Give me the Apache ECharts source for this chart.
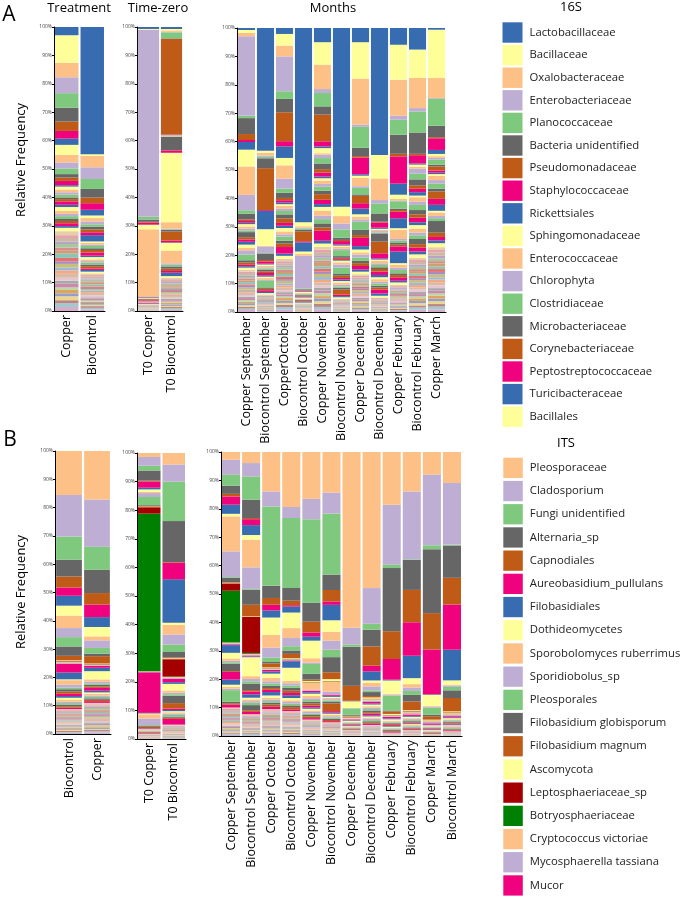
<!DOCTYPE html>
<html>
<head>
<meta charset="utf-8">
<script src="https://cdn.jsdelivr.net/npm/echarts@6/dist/echarts.min.js"></script>
<style>
  html, body { margin: 0; padding: 0; background: #fff; }
  #chart { width: 685px; height: 898px; }
</style>
</head>
<body>
<div id="chart"></div>
<script>
// legend taxa (top of each bar first)
const taxa16S = ['Lactobacillaceae', 'Bacillaceae', 'Oxalobacteraceae', 'Enterobacteriaceae', 'Planococcaceae',
  'Bacteria unidentified', 'Pseudomonadaceae', 'Staphylococcaceae', 'Rickettsiales', 'Sphingomonadaceae',
  'Enterococcaceae', 'Chlorophyta', 'Clostridiaceae', 'Microbacteriaceae', 'Corynebacteriaceae',
  'Peptostreptococcaceae', 'Turicibacteraceae', 'Bacillales'];
const taxaITS = ['Pleosporaceae', 'Cladosporium', 'Fungi unidentified', 'Alternaria_sp', 'Capnodiales',
  'Aureobasidium_pullulans', 'Filobasidiales', 'Dothideomycetes', 'Sporobolomyces ruberrimus', 'Sporidiobolus_sp',
  'Pleosporales', 'Filobasidium globisporum', 'Filobasidium magnum', 'Ascomycota', 'Leptosphaeriaceae_sp',
  'Botryosphaeriaceae', 'Cryptococcus victoriae', 'Mycosphaerella tassiana', 'Mucor'];

// categories
const treatA = ['Copper', 'Biocontrol'];
const t0A = ['T0 Copper', 'T0 Biocontrol'];
const monthsA = ['Copper September', 'Biocontrol September', 'CopperOctober', 'Biocontrol October',
  'Copper November', 'Biocontrol November', 'Copper December', 'Biocontrol December',
  'Copper February', 'Biocontrol February', 'Copper March'];
const treatB = ['Biocontrol', 'Copper'];
const t0B = ['T0 Copper', 'T0 Biocontrol'];
const monthsB = ['Copper September', 'Biocontrol September', 'Copper October', 'Biocontrol October',
  'Copper November', 'Biocontrol November', 'Copper December', 'Biocontrol December',
  'Copper February', 'Biocontrol February', 'Copper March', 'Biocontrol March'];

// 16S relative abundance per sample: 18 legend taxa, 16 further taxa, 24 minor taxa (%)
const a_copper = [2.9,9.7,5.1,5.6,5.1,4.9,3.3,2.7,2.2,3.5,2.7,2.1,2.0,1.2,1.2,1.5,0.5,1.0, 1.0,0.8,1.0,0.6,0.8,1.2,0.8,1.4,1.0,0.8,1.0,0.7,0.8,1.0,0.6,1.2, 1.4,1.0,1.2,0.9,1.3,1.1,1.0,1.5,1.2,0.9,1.3,1.0,1.2,1.4,1.0,1.1,1.3,0.9,1.2,1.0,1.4,1.1,1.3,1.4];
const a_biocontrol = [44.6,0.6,4.0,4.1,3.5,3.0,2.0,2.3,2.0,0.9,1.2,1.0,0.8,1.0,1.0,1.0,2.2,0.5, 0.6,0.5,0.8,0.6,0.9,1.1,0.5,0.8,0.6,0.5,0.7,0.6,0.8,0.5,0.6,0.6, 0.6,0.5,0.7,0.4,0.6,0.5,0.6,0.7,0.5,0.4,0.6,0.5,0.6,0.5,0.7,0.5,0.6,0.4,0.5,0.6,0.5,0.6,0.5,0.6];
const a_t0copper = [0.7,0.2,0.2,67,1.0,0.8,0.3,0.7,0.1,1.6,24,0.1,0.1,0.1,0.1,0.1,0.1,0.1, 0.1,0.1,0.1,0.1,0.4,0.3,0.1,0.1,0.1,0.1,0.1,0.1,0.1,0.2,0.1,0.1, 0.1,0.1,0.1,0.1,0.1,0.1,0.1,0.1,0.1,0.1,0.1,0.1,0.1,0.1,0.1,0.1,0.1,0.1,0.1,0.1,0.1,0.1,0.1,0.1];
const a_t0biocontrol = [0.7,0.5,0.5,0.2,2.1,0.2,33.7,0.2,0.1,0.2,0.1,0.1,0.1,4.7,0.1,0.8,0.1,24.4, 2.3,0.2,0.2,0.6,3.2,0.6,0.2,2.7,4.5,0.5,0.6,0.8,0.8,0.6,1.2,0.6, 0.5,0.6,0.4,0.5,0.6,0.4,0.5,0.5,0.6,0.4,0.5,0.4,0.5,0.6,0.4,0.5,0.5,0.4,0.6,0.5,0.4,0.5,0.5,0.4];
const a_cuSep = [0.7,1.0,1.2,28,0.8,5.6,2.1,0.7,2.7,5.9,10,5.4,1.2,2.0,0.6,0.6,0.5,0.8, 0.8,0.6,0.6,1.8,0.8,0.8,1.0,1.2,0.8,1.5,2.0,0.8,0.8,0.5,0.5,0.7, 0.7,0.5,0.8,0.6,0.5,0.7,0.6,0.8,0.5,0.6,0.7,0.5,0.6,0.8,0.6,0.5,0.7,0.6,0.5,0.7,0.6,0.6,0.5,0.7];
const a_bioSep = [43.4,0.8,0.9,0.5,0.5,3.5,14.8,0.3,6.5,5.9,0.2,2.3,0.2,2.3,0.5,0.8,0.3,0.5, 0.5,0.4,0.5,0.5,0.6,0.8,0.5,0.5,0.6,0.4,2.3,0.5,0.5,0.6,0.4,0.5, 0.3,0.2,0.4,0.2,0.3,0.3,0.2,0.4,0.2,0.3,0.2,0.3,0.3,0.2,0.2,0.3,0.2,0.3,0.2,0.3,0.2,0.2,0.3,0.2];
const a_cuOct = [2.1,4.1,3.8,12.3,2.7,4.7,10.2,1.8,4.1,2.6,4.7,3.5,1.5,1.8,0.8,0.8,0.6,0.6, 1.0,0.8,1.2,1.4,1.6,1.0,0.8,1.2,1.0,0.8,1.5,1.0,1.2,2.3,0.8,1.0, 0.9,0.7,0.8,0.6,0.9,0.8,0.7,1.0,0.8,0.6,0.9,0.7,0.8,0.9,0.7,0.8,0.7,0.6,0.9,0.8,0.7,0.8,0.9,0.8];
const a_bioOct = [68.4,1.4,0.5,0.3,0.5,0.5,3.5,0.4,3.2,0.9,0.6,11.5,0.3,0.3,0.2,0.2,0.2,0.3, 0.3,0.2,0.2,0.3,0.3,0.2,0.2,0.3,0.2,0.2,0.2,0.3,0.2,0.2,0.2,0.2, 0.2,0.1,0.2,0.1,0.2,0.1,0.1,0.2,0.1,0.1,0.2,0.1,0.1,0.2,0.1,0.1,0.1,0.1,0.2,0.1,0.1,0.1,0.1,0.1];
const a_cuNov = [5.0,7.9,8.6,1.4,4.7,2.9,9.4,1.8,0.6,1.8,0.5,1.2,1.9,2.0,1.2,1.4,0.6,0.8, 1.2,1.0,1.4,1.2,2.0,1.5,1.0,1.3,1.8,1.2,1.5,1.4,1.2,3.5,1.0,1.2, 1.0,0.8,1.1,0.9,1.0,0.8,1.2,0.9,1.0,0.8,1.1,1.0,0.9,1.0,0.8,1.1,0.9,1.0,0.8,1.0,0.9,1.1,0.8,1.0];
const a_bioNov = [63,3.3,2.6,2.1,2.9,0.8,0.4,1.2,0.4,0.5,0.6,0.5,2.1,0.6,0.4,0.3,0.3,0.6, 0.8,1.0,2.3,0.6,0.8,0.5,0.6,0.5,0.8,0.6,0.5,0.6,1.8,0.5,0.4,0.5, 0.2,0.2,0.3,0.2,0.2,0.2,0.1,0.2,0.2,0.2,0.2,0.2,0.2,0.2,0.2,0.1,0.2,0.2,0.2,0.2,0.2,0.2,0.2,0.2];
const a_cuDec = [5.0,12.8,16.2,0.8,7.4,2.9,0.5,5.9,0.5,0.8,2.9,0.6,2.3,0.5,2.6,1.9,2.0,0.8, 1.0,0.8,2.9,1.8,1.0,2.9,1.2,1.0,0.8,1.0,1.2,0.8,1.0,1.2,0.8,0.9, 0.6,0.5,0.7,0.5,0.6,0.4,0.6,0.5,0.7,0.5,0.6,0.5,0.6,0.4,0.6,0.5,0.7,0.5,0.6,0.5,0.6,0.5,0.5,0.6];
const a_bioDec = [44.6,8.2,7.6,1.2,3.5,2.9,0.3,1.8,0.4,0.3,0.5,0.5,0.3,2.9,4.1,1.8,0.4,0.5, 0.8,0.6,0.8,0.6,0.9,1.2,0.8,0.7,0.9,0.6,0.8,0.6,0.7,1.4,0.8,0.6, 0.2,0.3,0.2,0.2,0.2,0.3,0.2,0.2,0.2,0.2,0.2,0.2,0.3,0.2,0.2,0.2,0.2,0.2,0.2,0.2,0.2,0.2,0.2,0.2];
const a_cuFeb = [5.9,12.3,12.7,1.4,5.3,6.7,0.9,9.6,3.9,1.5,0.5,0.3,2.6,0.5,0.6,2.3,3.5,0.6, 3.2,0.6,0.8,0.6,0.6,1.8,4.1,0.6,1.0,0.8,1.2,0.6,0.8,1.2,0.6,0.8, 0.5,0.4,0.3,0.5,0.4,0.4,0.3,0.5,0.4,0.4,0.5,0.3,0.4,0.4,0.5,0.3,0.4,0.4,0.3,0.5,0.4,0.4,0.3,0.4];
const a_bioFeb = [7.6,10,10.6,1.2,7.4,7.5,0.5,2.9,0.4,0.8,0.6,1.8,2.0,2.1,1.2,1.2,1.2,0.6, 1.5,1.2,1.8,1.5,1.2,1.6,1.0,1.2,1.4,1.0,1.3,1.8,1.2,1.4,1.0,1.2, 0.8,0.7,0.9,0.8,0.8,0.7,0.9,0.8,0.8,0.7,0.9,0.8,0.8,0.7,0.9,0.8,0.8,0.7,0.9,0.8,0.8,0.7,0.8,0.8];
const a_cuMar = [0.6,17,7,0.3,9.5,4,0.4,4.1,1.4,0.8,0.6,0.6,1.8,0.6,1.4,0.8,0.5,0.6, 1.5,1.2,1.8,1.0,2.6,2.1,2.1,0.6,1.2,0.8,1.0,4.1,1.5,1.2,1.0,1.4, 1.0,0.9,1.1,0.9,1.0,0.8,1.1,0.9,1.0,0.9,1.0,0.8,1.1,0.9,1.0,0.9,1.0,0.8,1.0,0.9,1.0,0.9,1.0,0.9];

// ITS relative abundance per sample: 19 legend taxa, 16 further taxa, 24 minor taxa (%)
const b_bio = [15.5,14.7,8.2,5.9,3.9,2.9,3.5,3.5,4.4,3.2,3.3,3.3,1.6,0.3,0.2,0.1,0.3,0.3,3.1, 2.4,0.3,1.6,1.0,0.6,0.8,0.8,0.8,0.6,0.8,0.6,0.5,0.6,0.5,0.5,0.5, 0.4,0.3,0.4,0.4,0.3,0.4,0.4,0.3,0.4,0.4,0.3,0.4,0.4,0.3,0.4,0.4,0.3,0.4,0.4,0.3,0.4,0.4,0.3,0.4];
const b_cu = [17.1,16.7,8.2,8.2,4.1,4.4,3.5,3.3,1.4,2.7,2.0,0.9,2.6,0.2,0.1,0.1,0.2,0.2,0.7, 1.2,2.9,0.8,0.6,0.5,0.6,0.5,1.0,0.6,0.5,0.6,0.5,0.5,0.5,0.5,0.6, 0.5,0.4,0.5,0.4,0.5,0.5,0.4,0.5,0.4,0.5,0.5,0.4,0.5,0.4,0.5,0.5,0.4,0.5,0.4,0.5,0.4,0.5,0.4,0.5];
const b_t0cu = [1.4,3.1,1.7,3.6,0.3,2.2,0.6,0.9,0.4,1.4,2.9,0.3,0.2,0.2,2.3,55.8,0.2,0.2,14.4, 0.2,0.3,1.5,2.3,0.2,0.4,0.5,0.2,0.2,0.2,0.3,0.2,0.2,0.2,0.3,0.2, 0.1,0.05,0.1,0.05,0.1,0.1,0.05,0.1,0.05,0.1,0.1,0.05,0.1,0.05,0.1,0.05,0.1,0.05,0.1,0.05,0.05,0.1,0.05,0.1];
const b_t0bio = [4.0,6.0,13.7,14.3,0.2,5.8,15.1,0.8,3.3,3.5,2.6,1.9,0.3,0.3,6.0,0.2,0.3,0.3,1.2, 0.6,2.3,0.8,0.5,0.5,2.6,1.9,0.5,0.4,0.4,0.5,0.4,0.6,0.4,0.4,2.0, 0.3,0.2,0.3,0.2,0.2,0.2,0.2,0.2,0.2,0.2,0.2,0.2,0.2,0.2,0.2,0.2,0.2,0.2,0.2,0.2,0.2,0.2,0.2,0.2];
const b_cuSep = [2.7,5.3,3.8,2.9,0.9,2.9,3.2,0.9,12.3,9.0,0.3,1.5,0.2,0.2,2.6,18.2,0.3,0.3,0.3, 2.7,2.0,0.8,0.5,0.5,2.6,0.3,2.7,1.8,0.8,0.6,0.5,4.1,0.5,0.5,1.0, 0.5,0.4,0.4,0.5,0.4,0.4,0.4,0.5,0.4,0.4,0.4,0.4,0.5,0.4,0.4,0.4,0.4,0.4,0.4,0.4,0.4,0.4,0.4,0.4];
const b_bioSep = [3.9,4.7,8.2,6.5,0.4,2.1,3.5,1.6,9.8,7.6,0.3,5.3,4.1,0.2,12.7,0.3,0.3,0.3,0.3, 0.3,6.7,1.0,0.8,0.8,2.3,0.5,1.0,1.2,0.6,0.6,0.6,0.8,1.8,0.6,0.8, 0.4,0.3,0.3,0.3,0.4,0.3,0.3,0.3,0.4,0.3,0.3,0.3,0.4,0.3,0.3,0.3,0.3,0.3,0.3,0.3,0.3,0.3,0.4,0.3];
const b_cuOct = [13.9,5.3,28,4.3,2.4,2.0,2.5,6.1,4.5,3.5,1.6,0.5,1.4,0.3,0.1,0.1,0.2,0.2,0.5, 0.8,1.5,1.2,0.8,0.8,0.8,0.6,0.8,1.2,0.8,0.6,0.6,0.6,0.6,0.8,0.8, 0.4,0.4,0.4,0.4,0.4,0.4,0.4,0.4,0.4,0.4,0.4,0.4,0.4,0.4,0.4,0.4,0.4,0.4,0.3,0.4,0.4,0.4,0.4,0.4];
const b_bioOct = [19.4,3.9,24.7,4.5,1.6,0.5,2.1,5.5,3.5,2.9,1.5,1.2,1.5,0.2,0.1,0.1,0.2,0.2,0.3, 2.3,4.7,0.8,0.8,0.8,1.0,0.8,0.8,1.0,0.8,0.6,0.6,0.6,0.6,0.8,0.6, 0.4,0.3,0.4,0.4,0.3,0.4,0.4,0.3,0.4,0.4,0.3,0.4,0.4,0.3,0.4,0.4,0.3,0.4,0.4,0.3,0.4,0.4,0.3,0.4];
const b_cuNov = [16.5,7.2,29.4,6.7,3.8,1.5,1.4,6.2,1.5,0.5,3.5,2.0,0.5,0.3,0.1,0.1,2.6,0.4,0.5, 0.5,0.8,0.8,0.6,0.6,0.6,0.8,0.6,0.5,0.6,0.5,0.6,0.5,0.5,0.6,0.5, 0.3,0.2,0.3,0.2,0.3,0.2,0.2,0.3,0.2,0.3,0.2,0.2,0.3,0.2,0.3,0.2,0.2,0.3,0.2,0.3,0.2,0.2,0.3,0.2];
const b_bioNov = [14.2,7.3,21.4,5.4,4.0,1.2,5.4,4.0,3.1,3.2,2.6,5.3,2.4,0.7,0.1,0.1,3.5,1.2,0.3, 0.3,0.3,0.5,0.5,0.5,0.5,2.7,0.5,0.4,0.4,0.5,0.4,0.5,0.4,0.4,0.4, 0.2,0.2,0.2,0.2,0.2,0.2,0.2,0.2,0.2,0.2,0.2,0.2,0.2,0.2,0.2,0.2,0.2,0.2,0.2,0.2,0.2,0.2,0.2,0.2];
const b_cuDec = [62.4,5.9,0.8,13.9,5.3,0.1,0.1,2.3,0.1,0.1,2.3,0.3,0.3,0.2,0.1,0.1,0.3,0.3,0.3, 0.2,0.3,0.3,0.2,0.2,0.3,0.2,0.2,0.2,0.2,0.2,0.2,0.2,0.2,0.2,0.2, 0.1,0.1,0.05,0.1,0.1,0.1,0.05,0.1,0.1,0.1,0.05,0.1,0.1,0.1,0.05,0.1,0.1,0.1,0.05,0.1,0.1,0.05,0.1,0.1];
const b_bioDec = [48,12.6,2.1,5.9,6.8,2.0,3.2,0.9,1.2,1.4,0.6,1.4,0.5,0.4,0.1,0.1,0.5,0.5,0.5, 0.4,0.6,0.5,0.5,0.5,0.6,0.5,0.6,0.4,0.4,0.4,0.5,0.4,0.5,0.4,0.4, 0.2,0.15,0.15,0.2,0.15,0.15,0.15,0.2,0.15,0.15,0.15,0.2,0.15,0.15,0.15,0.2,0.15,0.15,0.15,0.2,0.15,0.15,0.15,0.15];
const b_cuFeb = [18.6,21.2,1.2,22.3,9.8,7.3,0.3,4.7,0.3,0.3,5.3,0.3,0.9,0.3,0.1,0.1,0.3,0.3,0.5, 0.3,0.5,0.3,0.3,0.3,0.3,0.3,0.3,0.3,0.3,0.3,0.3,0.3,0.3,0.3,0.3, 0.05,0.05,0.05,0.05,0.05,0.05,0.05,0.05,0.05,0.05,0.05,0.05,0.05,0.05,0.05,0.05,0.05,0.05,0.05,0.05,0.05,0.05,0.05,0.05];
const b_bioFeb = [13.9,23.9,0.2,10.6,11.4,11.8,7.9,2.1,1.2,1.2,1.4,2.3,3.1,0.3,0.1,0.1,0.5,0.5,0.5, 0.3,0.5,0.3,0.3,0.3,0.3,0.3,0.3,0.3,0.3,0.3,0.3,0.3,0.3,0.3,0.3, 0.1,0.08,0.08,0.1,0.08,0.08,0.1,0.08,0.08,0.1,0.08,0.08,0.1,0.08,0.08,0.1,0.08,0.08,0.1,0.08,0.08,0.1,0.08,0.08];
const b_cuMar = [8.0,25.1,1.4,22.7,12.9,15.9,0.2,3.9,0.3,0.3,2.6,0.5,1.2,0.3,0.1,0.1,0.3,0.5,0.5, 0.2,0.3,0.2,0.2,0.2,0.2,0.2,0.2,0.2,0.2,0.2,0.2,0.2,0.2,0.2,0.2, 0.05,0.05,0.05,0.05,0.05,0.05,0.05,0.05,0.05,0.05,0.05,0.05,0.05,0.05];
const b_bioMar = [10.9,21.7,0.3,11.4,9.4,15.9,10.8,1.5,0.3,0.5,1.2,2.7,4.7,0.3,0.1,0.1,0.8,0.4,0.4, 0.3,0.4,0.3,0.3,0.3,0.3,0.3,0.3,0.3,0.3,0.3,0.3,0.3,0.3,0.3,0.3, 0.07,0.07,0.07,0.07,0.07,0.07,0.07,0.07,0.07,0.07,0.07,0.07,0.07,0.07,0.07,0.07,0.07,0.07,0.07,0.07,0.07,0.07,0.07,0.07];

// colours
const BLUE = '#386CB0', YELLOW = '#FFFF99', ORANGE = '#FDC086', PURPLE = '#BEAED4',
      GREEN = '#7FC97F', GRAY = '#666666', BROWN = '#BF5B17', PINK = '#F0027F';
const cycle = [BLUE, YELLOW, ORANGE, PURPLE, GREEN, GRAY, BROWN, PINK];
const minorPal = ['#E6CFA8','#E7A1B0','#CBB8A0','#B9A3C8','#A7C79C','#D98E8E','#C9A274','#8DC3B8',
  '#E4716E','#A88CC0','#C7BF78','#9DB9D9','#F3AA84','#D7BCA6','#E8C4D2','#A9A9A9',
  '#C98AAB','#BFD6A6','#DDA660','#939FC8','#EBD68E','#B98686','#A0CACE','#D8ADCB'];
const colors16S = [];
for (let i = 0; i < 34; i++) colors16S.push(cycle[i % 8]);
minorPal.forEach(c => colors16S.push(c));
const colorsITS = [ORANGE, PURPLE, GREEN, GRAY, BROWN, PINK, BLUE, YELLOW, ORANGE, PURPLE, GREEN, GRAY,
  BROWN, YELLOW, '#A50000', '#008000', ORANGE, PURPLE, PINK];
for (let i = 0; i < 16; i++) colorsITS.push(cycle[i % 8]);
minorPal.forEach(c => colorsITS.push(c));

const FONT = 'Open Sans';

const panels = [
  // panel A
  { cats: treatA, samples: [a_copper, a_biocontrol], grid: { left: 54, top: 27, width: 51, height: 284 }, gap: '8%', taxa: taxa16S, colors: colors16S },
  { cats: t0A, samples: [a_t0copper, a_t0biocontrol], grid: { left: 137, top: 27, width: 46, height: 284 }, gap: '8%', taxa: taxa16S, colors: colors16S },
  { cats: monthsA, samples: [a_cuSep, a_bioSep, a_cuOct, a_bioOct, a_cuNov, a_bioNov, a_cuDec, a_bioDec, a_cuFeb, a_bioFeb, a_cuMar],
    grid: { left: 237, top: 28, width: 209, height: 284 }, gap: '10%', taxa: taxa16S, colors: colors16S },
  // panel B
  { cats: treatB, samples: [b_bio, b_cu], grid: { left: 55, top: 451, width: 56, height: 283 }, gap: '8%', taxa: taxaITS, colors: colorsITS },
  { cats: t0B, samples: [b_t0cu, b_t0bio], grid: { left: 137, top: 453, width: 49, height: 286 }, gap: '8%', taxa: taxaITS, colors: colorsITS },
  { cats: monthsB, samples: [b_cuSep, b_bioSep, b_cuOct, b_bioOct, b_cuNov, b_bioNov, b_cuDec, b_bioDec, b_cuFeb, b_bioFeb, b_cuMar, b_bioMar],
    grid: { left: 221, top: 452, width: 241, height: 284 }, gap: '10%', taxa: taxaITS, colors: colorsITS }
];

const grids = [], xAxes = [], yAxes = [], series = [];
panels.forEach((p, g) => {
  grids.push(p.grid);
  xAxes.push({
    type: 'category', gridIndex: g, data: p.cats,
    axisLine: { lineStyle: { color: '#000', width: 1 } },
    axisTick: { alignWithLabel: true, length: 3, lineStyle: { color: '#000' } },
    axisLabel: { rotate: 90, fontSize: 12.5, color: '#000', fontFamily: FONT, margin: 4, interval: 0 }
  });
  yAxes.push({
    type: 'value', gridIndex: g, min: 0, max: 100, interval: 10,
    axisLine: { show: true, lineStyle: { color: '#000', width: 1 } },
    axisTick: { show: true, length: 2, lineStyle: { color: '#000' } },
    axisLabel: { formatter: '{value}%', fontSize: 5, color: '#444', margin: 2, fontFamily: FONT },
    splitLine: { show: false }
  });
  // relative frequency of each sample
  const rel = p.samples.map(s => {
    const tot = s.reduce((a, b) => a + b, 0);
    return s.map(v => v * 100 / tot);
  });
  const n = p.colors.length;
  // first taxon sits on top of the stack
  for (let i = n - 1; i >= 0; i--) {
    series.push({
      type: 'bar',
      name: i < p.taxa.length ? p.taxa[i] : 'other ' + i,
      xAxisIndex: g, yAxisIndex: g, stack: 's' + g,
      barCategoryGap: p.gap,
      itemStyle: { color: p.colors[i] },
      data: rel.map(r => r[i] || 0)
    });
  }
});

const txt = (text, x, y, size, rot) => ({
  type: 'text', x: x, y: y, rotation: rot || 0,
  style: { text: text, fontSize: size, fontFamily: FONT, fill: '#000',
           textAlign: 'center', textVerticalAlign: 'middle', align: 'center', verticalAlign: 'middle' }
});

const legendText = { fontSize: 11.3, color: '#222', fontFamily: FONT, padding: [0, 0, 0, 2] };

const chart = echarts.init(document.getElementById('chart'));
chart.setOption({
  animation: false,
  backgroundColor: '#fff',
  grid: grids,
  xAxis: xAxes,
  yAxis: yAxes,
  legend: [
    { data: taxa16S, orient: 'vertical', left: 502.5, top: 22.3, padding: 0, itemWidth: 20, itemHeight: 20.4, itemGap: 2.2,
      icon: 'rect', selectedMode: false, textStyle: legendText },
    { data: taxaITS, orient: 'vertical', left: 503.3, top: 457.7, padding: 0, itemWidth: 19.5, itemHeight: 20.3, itemGap: 2.9,
      icon: 'rect', selectedMode: false, textStyle: legendText }
  ],
  graphic: [
    txt('A', 9, 15, 21),
    txt('B', 10, 440, 21),
    txt('Treatment', 79, 8, 13),
    txt('Time-zero', 158, 8, 13),
    txt('Months', 333, 8, 13),
    txt('16S', 571, 7, 13),
    txt('ITS', 566, 443, 13),
    txt('Relative Frequency', 21, 160, 13, Math.PI / 2),
    txt('Relative Frequency', 21, 592, 13, Math.PI / 2)
  ],
  series: series
});
</script>
</body>
</html>
